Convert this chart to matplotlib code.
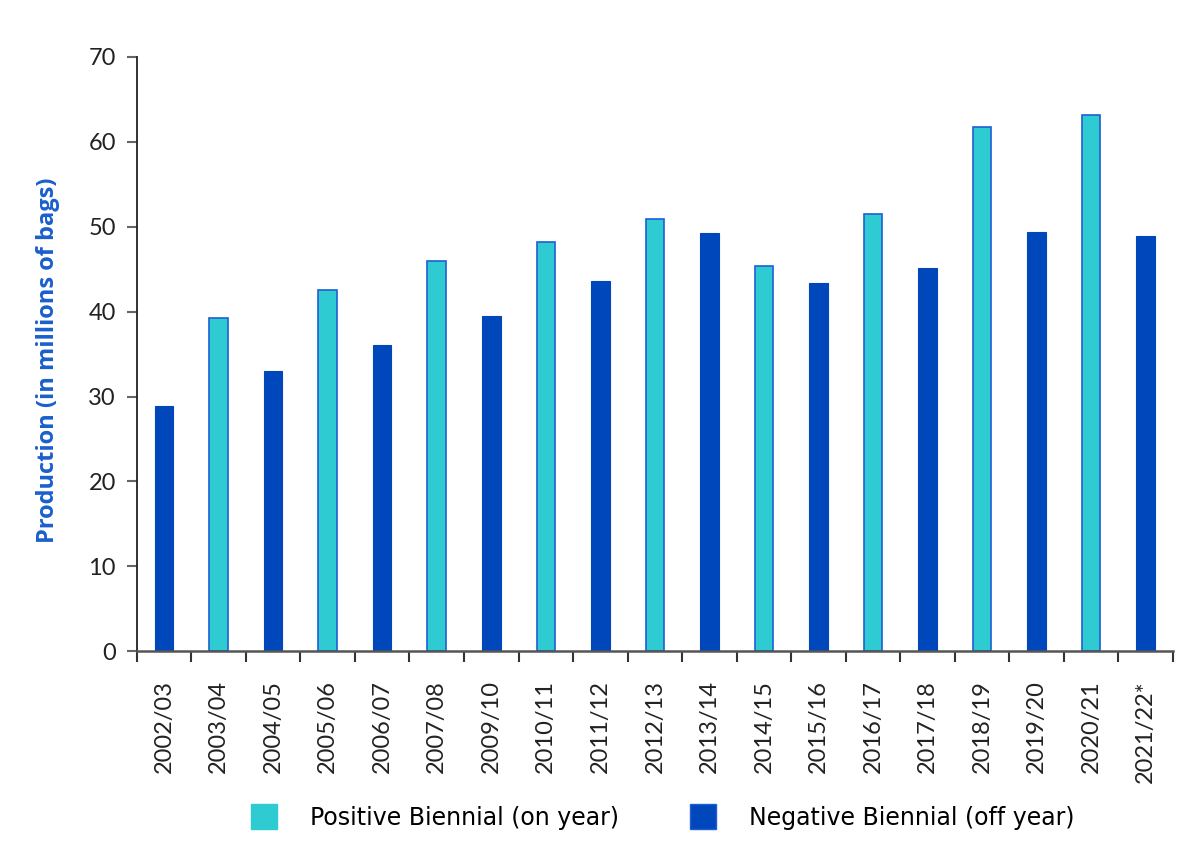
import matplotlib.pyplot as plt
from matplotlib.patches import Patch
import numpy as np

seasons = ['2002/03', '2003/04', '2004/05', '2005/06', '2006/07', '2007/08',
           '2009/10', '2010/11', '2011/12', '2012/13', '2013/14', '2014/15',
           '2015/16', '2016/17', '2017/18', '2018/19', '2019/20', '2020/21',
           '2021/22*']
production = [28.9, 39.3, 33.0, 42.5, 36.1, 46.0, 39.5, 48.2, 43.6, 50.9,
              49.3, 45.4, 43.4, 51.5, 45.1, 61.7, 49.4, 63.2, 48.9]
on_year = [False, True, False, True, False, True, False, True, False, True,
           False, True, False, True, False, True, False, True, False]

cyan = '#2ecbd3'
navy = '#0047bb'
edge = '#1f5fd6'

plt.rcParams['font.family'] = ['Lato', 'DejaVu Sans']

fig = plt.figure(figsize=(12, 8.48), dpi=100)
ax = fig.add_axes([0.114, 0.232, 0.8635, 0.701])

x = np.arange(len(seasons))
for i, (val, on) in enumerate(zip(production, on_year)):
    if on:
        ax.bar(x[i], val, width=0.34, color=cyan, edgecolor=edge, linewidth=1.2)
    else:
        ax.bar(x[i], val, width=0.34, color=navy, edgecolor=navy, linewidth=0.8)

ax.set_xlim(-0.5, len(seasons) - 0.5)
ax.set_ylim(0, 70)
ax.set_yticks(range(0, 71, 10))
ax.tick_params(axis='y', labelsize=17, colors='#222222', length=7, width=1.5,
               direction='out', pad=8)
ax.tick_params(axis='y', color='#666666')

ax.set_xticks(x)
ax.set_xticklabels(seasons, rotation=90, fontsize=17, color='#222222')
ax.tick_params(axis='x', length=0, pad=21)
ax.set_xticks(np.arange(-0.5, len(seasons), 1), minor=True)
ax.tick_params(axis='x', which='minor', length=8, width=1.5, color='#333333',
               direction='out')

for side in ['top', 'right']:
    ax.spines[side].set_visible(False)
ax.spines['left'].set_color('#222222')
ax.spines['left'].set_linewidth(1.3)
ax.spines['bottom'].set_color('#555555')
ax.spines['bottom'].set_linewidth(1.8)

ax.set_ylabel('Production (in millions of bags)', fontsize=17, fontweight='bold',
              color='#1a5fcc', family=['Open Sans', 'DejaVu Sans'])
ax.yaxis.set_label_coords(-0.074, 0.49)

handles = [Patch(facecolor=cyan, edgecolor=cyan, label='Positive Biennial (on year)'),
           Patch(facecolor=navy, edgecolor=edge, label='Negative Biennial (off year)')]
fig.legend(handles=handles, loc='center', bbox_to_anchor=(0.552, 0.037), ncol=2,
           frameon=False, handlelength=1.1, handleheight=1.3,
           columnspacing=3.0, handletextpad=1.4,
           prop={'family': 'DejaVu Sans', 'size': 17})

fig.savefig('out.png', dpi=100)
